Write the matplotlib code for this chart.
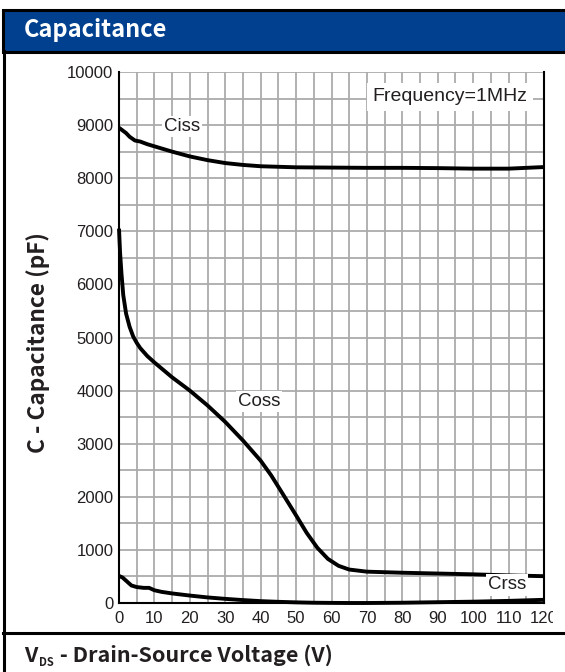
import matplotlib
matplotlib.use("Agg")
import matplotlib.pyplot as plt
from matplotlib.patches import Rectangle
from matplotlib.lines import Line2D
from matplotlib.transforms import Bbox

W, H = 565, 672

# Capacitance vs drain-source voltage, f = 1 MHz
ciss_v = [0, 1, 2, 3, 4.5, 6, 8, 10, 15, 20, 25, 30, 35, 40, 50, 60, 70, 80, 90, 100, 110, 115, 120]
ciss_c = [8950, 8900, 8850, 8780, 8710, 8690, 8640, 8600, 8500, 8410, 8340, 8285, 8250, 8225,
          8205, 8200, 8195, 8195, 8190, 8180, 8180, 8195, 8210]

coss_v = [0, 0.3, 0.7, 1.2, 2, 3, 4, 5, 6, 8, 10, 15, 20, 25, 30, 35, 40, 43, 46, 50, 53, 56,
          59, 62, 65, 70, 80, 90, 100, 110, 120]
coss_c = [7050, 6600, 6200, 5800, 5450, 5200, 5020, 4900, 4800, 4650, 4530, 4250, 4000, 3720,
          3410, 3060, 2680, 2400, 2080, 1650, 1320, 1040, 830, 700, 630, 590, 570, 555, 540,
          520, 505]

crss_v = [0, 1, 2, 3.5, 5, 7, 8.5, 10, 12, 15, 20, 25, 30, 35, 40, 45, 50, 55, 60, 65, 70, 80,
          90, 100, 110, 120]
crss_c = [510, 480, 420, 330, 300, 285, 285, 240, 210, 180, 140, 105, 78, 55, 35, 22, 12, 5, 2,
          0, 0, 5, 15, 25, 40, 60]

x_ticks = list(range(0, 121, 10))
y_ticks = list(range(0, 10001, 1000))

BLUE = "#00408f"
INK = "#231f20"
BOLD_FONT = ["Noto Sans CJK SC", "Open Sans", "DejaVu Sans"]


def fx(x):
    return x / W


def fy(y):
    return 1 - y / H


fig = plt.figure(figsize=(W / 100, H / 100), dpi=100)
fig.patch.set_facecolor("white")

# frame: title bar, left rule, footer rule
fig.add_artist(Rectangle((fx(3), fy(51.5)), fx(580) - fx(3), fy(9.5) - fy(51.5),
                         transform=fig.transFigure, facecolor=BLUE, edgecolor="black",
                         linewidth=2.2))
fig.add_artist(Line2D([fx(3.5), fx(3.5)], [fy(51), fy(672)], color="black", linewidth=2.2,
                      transform=fig.transFigure))
fig.add_artist(Line2D([fx(3), fx(565)], [fy(633), fy(633)], color="black", linewidth=2.2,
                      transform=fig.transFigure))

fig.text(fx(24), fy(30), "Capacitance", color="white", fontsize=17, fontweight="bold",
         family=BOLD_FONT, va="center", ha="left")

ax = fig.add_axes([fx(119), fy(603), fx(544) - fx(119), fy(72) - fy(603)])
ax.set_xlim(0, 120)
ax.set_ylim(0, 10000)
ax.set_xticks(x_ticks)
ax.set_yticks(y_ticks)
ax.set_xticks(range(0, 121, 5), minor=True)
ax.set_yticks(range(0, 10001, 500), minor=True)
ax.grid(which="both", color="#ababab", linewidth=1.3)
ax.set_axisbelow(True)
ax.spines["top"].set_visible(False)
for side in ("left", "right", "bottom"):
    ax.spines[side].set_linewidth(1.5)
    ax.spines[side].set_color("black")
ax.tick_params(which="both", length=0)
ax.tick_params(axis="x", pad=6)
ax.tick_params(axis="y", pad=4)
for lab in ax.get_xticklabels() + ax.get_yticklabels():
    lab.set_family("Liberation Sans")
    lab.set_fontsize(12)
    lab.set_color(INK)

ax.plot(ciss_v, ciss_c, color="black", linewidth=2.8, solid_capstyle="butt", clip_on=False)
ax.plot(coss_v, coss_c, color="black", linewidth=2.8, solid_capstyle="butt", clip_on=False)
ax.plot(crss_v, crss_c, color="black", linewidth=2.8, solid_capstyle="butt", clip_on=False)

label_kw = dict(family="Liberation Sans", fontsize=13.5, color=INK, ha="center", va="center",
                bbox=dict(facecolor="white", edgecolor="none", pad=1.5))
ax.text(17.8, 8980, "Ciss", **label_kw)
ax.text(39.5, 3800, "Coss", **label_kw)
ax.text(109.6, 340, "Crss", **label_kw)
ax.text(93.5, 9530, "Frequency=1MHz", family="Liberation Sans", fontsize=14, color=INK,
        ha="center", va="center",
        bbox=dict(facecolor="white", edgecolor="none", boxstyle="square,pad=0.3"))

fig.text(fx(38.5), fy(343), "C - Capacitance (pF)", rotation=90, fontsize=16.3,
         fontweight="bold", family=BOLD_FONT, color=INK, ha="center", va="center")

v_txt = fig.text(fx(24), fy(666), "V", fontsize=15.5, fontweight="bold", family=BOLD_FONT,
                 color=INK, ha="left", va="bottom")
ds_txt = fig.add_artist(plt.Annotation("DS", xy=(1, 0), xycoords=v_txt, xytext=(1, -2),
                                       textcoords="offset points", fontsize=8,
                                       fontweight="bold", family=BOLD_FONT, color=INK,
                                       ha="left", va="bottom"))
fig.add_artist(plt.Annotation(" - Drain-Source Voltage (V)", xy=(1, 0), xycoords=(ds_txt, v_txt),
                              xytext=(1, 0), textcoords="offset points", fontsize=15.5,
                              fontweight="bold", family=BOLD_FONT, color=INK,
                              ha="left", va="bottom"))

# last x label runs past the frame edge
fig.canvas.draw()
for lab in ax.get_xticklabels():
    lab.set_clip_box(Bbox.from_extents(0, 0, 553, H))
    lab.set_clip_on(True)

fig.savefig("out.png", dpi=100)
